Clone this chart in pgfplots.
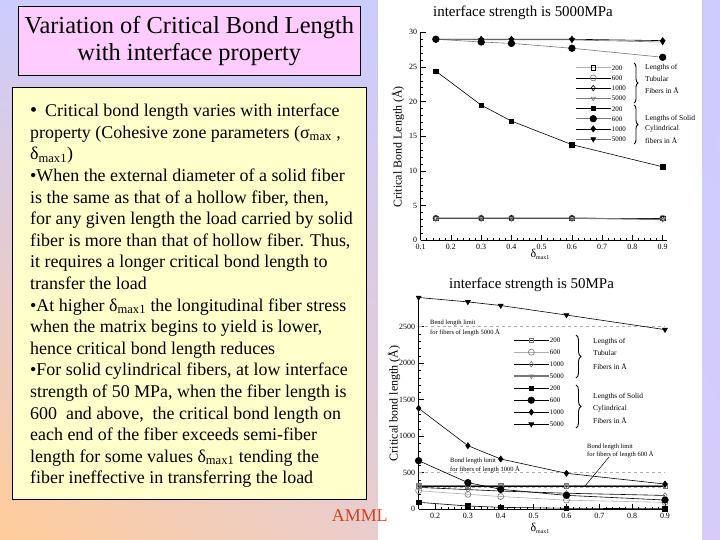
\documentclass[border=0pt]{standalone}
\usepackage{pgfplots}
\pgfplotsset{compat=1.18}
\usepackage{fontspec}
\setmainfont{Liberation Serif}
\usetikzlibrary{decorations.pathreplacing,shadings}
\definecolor{lavender}{RGB}{204,204,255}
\definecolor{peach}{RGB}{255,204,153}
\definecolor{lavpink}{RGB}{214,204,250}
\definecolor{titlepink}{RGB}{255,204,255}
\definecolor{boxyellow}{RGB}{255,255,204}
\definecolor{ammlred}{RGB}{204,68,34}
\definecolor{lgray}{RGB}{175,175,175}
\definecolor{mgray}{RGB}{120,120,120}

\pgfplotsset{
  slide/.style={
    scale only axis,
    axis x line*=bottom, axis y line*=left,
    axis line style={line width=0.8bp,-},
    tick style={black, line width=0.6bp},
    major tick length=5bp, minor tick length=2.5bp,
    minor x tick num=4, minor y tick num=4,
    tick label style={font=\fontsize{8}{9}\selectfont},
    /pgf/number format/assume math mode=true,
    /pgf/number format/1000 sep={},
    every axis plot/.append style={line width=0.6bp},
    legend image code/.code={\draw[mark repeat=2,mark phase=2,##1] plot coordinates {(0bp,0bp) (17.5bp,0bp) (35bp,0bp)};},
    legend cell align=left,
  }
}
\newcommand{\dmax}{δ\textsubscript{max1}}
\newcommand{\xl}{{\fontsize{12}{12}\selectfont δ}{\fontsize{6}{6}\selectfont\raisebox{-2bp}{max1}}}

\begin{document}
\begin{tikzpicture}
\path[use as bounding box] (0bp,0bp) rectangle (720bp,-540bp);
% background
\shade[upper left=lavender, upper right=lavender, lower left=peach, lower right=lavpink] (0bp,0bp) rectangle (720bp,-540bp);
\fill[white] (378bp,0bp) rectangle (702bp,-540bp);

% title box
\draw[fill=titlepink, line width=0.6bp] (18bp,-6.3bp) rectangle (360.7bp,-75.3bp);
\node[anchor=base, font=\fontsize{24.5}{26}\selectfont] at (189.3bp,-33bp) {Variation of Critical Bond Length};
\node[anchor=base, font=\fontsize{24.5}{26}\selectfont] at (189.3bp,-60bp) {with interface property};

% text box
\draw[fill=boxyellow, line width=0.6bp] (12.3bp,-87.3bp) rectangle (366.7bp,-499.3bp);
\begin{scope}[every node/.style={anchor=base west, inner sep=0pt, font=\fontsize{18}{20}\selectfont}]
\node at (30bp,-116.7bp) {\fontsize{20}{20}\selectfont •};
\node at (45bp,-116.7bp) {Critical bond length varies with interface};
\node at (30bp,-138.3bp) {property (Cohesive zone parameters (σ\textsubscript{max} ,};
\node at (30bp,-159.9bp) {\dmax)};
\node at (30bp,-181.5bp) {•When the external diameter of a solid fiber};
\node at (30bp,-203.1bp) {is the same as that of a hollow fiber, then,};
\node at (30bp,-224.7bp) {for any given length the load carried by solid};
\node at (30bp,-246.3bp) {fiber is more than that of hollow fiber. Thus,};
\node at (30bp,-267.9bp) {it requires a longer critical bond length to};
\node at (30bp,-289.5bp) {transfer the load};
\node at (30bp,-311.1bp) {•At higher \dmax\ the longitudinal fiber stress};
\node at (30bp,-332.7bp) {when the matrix begins to yield is lower,};
\node at (30bp,-354.3bp) {hence critical bond length reduces};
\node at (30bp,-375.9bp) {•For solid cylindrical fibers, at low interface};
\node at (30bp,-397.5bp) {strength of 50 MPa, when the fiber length is};
\node at (30bp,-419.1bp) {600 \ and above, \ the critical bond length on};
\node at (30bp,-440.7bp) {each end of the fiber exceeds semi-fiber};
\node at (30bp,-462.3bp) {length for some values \dmax\ tending the};
\node at (30bp,-483.9bp) {fiber ineffective in transferring the load};
\end{scope}

% chart titles
\node[anchor=base, font=\fontsize{15}{16}\selectfont] at (523bp,-16.5bp) {interface strength is 5000MPa};
\node[anchor=base, font=\fontsize{15}{16}\selectfont] at (531.5bp,-288bp) {interface strength is 50MPa};

% ===== top chart =====
\begin{axis}[slide,
  at={(420.7bp,-240.3bp)}, anchor=south west,
  width=246.5bp, height=208bp,
  xmin=0.1, xmax=0.915, ymin=0, ymax=30,
  xtick={0.1,0.2,...,0.9},
  xticklabels={0.1,0.2,0.3,0.4,0.5,0.6,0.7,0.8,0.9},
  ytick={0,5,...,30},
  ylabel={Critical Bond Length (Å)},
  ylabel style={font=\fontsize{12}{12}\selectfont, at={(axis description cs:-0.092,0.45)}, anchor=center},
  xlabel={\xl},
  xlabel style={at={(axis description cs:0.484,-0.068)}, anchor=center},
  legend style={at={(axis cs:0.61,25.5)}, anchor=north west, draw=none, fill=none, inner sep=0pt,
    row sep=2.2bp, font=\fontsize{7}{8}\selectfont,
    nodes={inner sep=0.5bp, text height=6bp, text depth=1bp}},
]
\addplot[lgray, mark=square, mark size=2.2bp, mark options={black,solid}] coordinates {(0.15,3.2)(0.3,3.2)(0.4,3.2)(0.6,3.2)(0.9,3.2)};
\addlegendentry{200}
\addplot[black, mark=o, mark size=3bp, mark options={mgray}] coordinates {(0.15,3.2)(0.3,3.2)(0.4,3.2)(0.6,3.2)(0.9,3.2)};
\addlegendentry{600}
\addplot[black, mark=diamond, mark size=2.8bp] coordinates {(0.15,3.2)(0.3,3.2)(0.4,3.2)(0.6,3.2)(0.9,3.1)};
\addlegendentry{1000}
\addplot[mgray, line width=1.2bp, mark=triangle, mark size=2.5bp, mark options={rotate=180, line width=0.6bp}] coordinates {(0.15,3.2)(0.3,3.2)(0.4,3.2)(0.6,3.2)(0.9,3.0)};
\addlegendentry{5000}
\addplot[black, mark=square*, mark size=2.2bp] coordinates {(0.15,24.4)(0.3,19.5)(0.4,17.2)(0.6,13.8)(0.9,10.6)};
\addlegendentry{200}
\addplot[mgray, mark=*, mark size=3.3bp, mark options={black}] coordinates {(0.15,29.0)(0.3,28.6)(0.4,28.4)(0.6,27.7)(0.9,26.4)};
\addlegendentry{600}
\addplot[black, mark=diamond*, mark size=3bp] coordinates {(0.15,29.0)(0.3,29.0)(0.4,29.0)(0.6,29.0)(0.9,28.8)};
\addlegendentry{1000}
\addplot[mgray, mark=triangle*, mark size=2.8bp, mark options={rotate=180, black}] coordinates {(0.15,29.0)(0.3,28.9)(0.4,28.9)(0.6,28.9)(0.9,28.6)};
\addlegendentry{5000}
\end{axis}

% top legend braces and text
\draw[decorate, decoration={brace, amplitude=4bp}, line width=0.9bp] (634bp,-63bp) -- (634bp,-103bp);
\draw[decorate, decoration={brace, amplitude=4bp}, line width=0.9bp] (634bp,-105bp) -- (634bp,-144bp);
\begin{scope}[every node/.style={anchor=west, inner sep=0pt, font=\fontsize{7.5}{8}\selectfont}]
\node at (645bp,-68bp) {Lengths of};
\node at (645bp,-79bp) {Tubular};
\node at (645bp,-90.5bp) {Fibers in Å};
\node at (645bp,-118.3bp) {Lengths of Solid};
\node at (645bp,-128.7bp) {Cylindrical};
\node at (645bp,-140.7bp) {fibers in Å};
\end{scope}

% ===== bottom chart =====
\begin{axis}[slide,
  at={(418.6bp,-509.3bp)}, anchor=south west,
  width=248.7bp, height=211.8bp,
  xmin=0.15, xmax=0.907, ymin=0, ymax=2900,
  xtick={0.2,0.3,...,0.9},
  xticklabels={0.2,0.3,0.4,0.5,0.6,0.7,0.8,0.9},
  ytick={0,500,...,2500},
  ylabel={Critical bond length (Å)},
  ylabel style={font=\fontsize{12}{12}\selectfont, at={(axis description cs:-0.099,0.5)}, anchor=center},
  xlabel={\xl},
  xlabel style={at={(axis description cs:0.488,-0.088)}, anchor=center},
  legend style={at={(axis cs:0.437,2373)}, anchor=north west, draw=none, fill=none, inner sep=0pt,
    row sep=4bp, font=\fontsize{7}{8}\selectfont,
    nodes={inner sep=0.5bp, text height=6bp, text depth=1bp}},
]
% reference limits
\addplot[lgray, dashed, forget plot] coordinates {(0.15,2500)(0.9,2500)};
\addplot[lgray, dashed, forget plot] coordinates {(0.15,500)(0.9,500)};
\addplot[lgray, dashed, forget plot] coordinates {(0.15,300)(0.9,300)};
\addplot[black, mark=square, mark size=2.2bp, mark options={mgray,solid}] coordinates {(0.15,320)(0.3,320)(0.4,320)(0.6,320)(0.9,320)};
\addlegendentry{200}
\addplot[lgray, mark=o, mark size=3bp, mark options={mgray}] coordinates {(0.15,255)(0.3,205)(0.4,175)(0.6,125)(0.9,95)};
\addlegendentry{600}
\addplot[black, mark=diamond, mark size=2.8bp, mark options={mgray}] coordinates {(0.15,300)(0.3,270)(0.4,250)(0.6,220)(0.9,190)};
\addlegendentry{1000}
\addplot[mgray, line width=1.4bp, mark=triangle, mark size=2.5bp, mark options={rotate=180, line width=0.6bp}] coordinates {(0.15,325)(0.3,325)(0.4,325)(0.6,325)(0.9,325)};
\addlegendentry{5000}
\addplot[black, mark=square*, mark size=2.3bp] coordinates {(0.15,96)(0.3,45)(0.4,27)(0.6,14)(0.9,8)};
\addlegendentry{200}
\addplot[black, mark=*, mark size=3.3bp] coordinates {(0.15,666)(0.3,365)(0.4,274)(0.6,191)(0.9,127)};
\addlegendentry{600}
\addplot[black, mark=diamond*, mark size=3bp] coordinates {(0.15,1383)(0.3,871)(0.4,689)(0.6,493)(0.9,346)};
\addlegendentry{1000}
\addplot[black, mark=triangle*, mark size=2.8bp, mark options={rotate=180}] coordinates {(0.15,2900)(0.3,2840)(0.4,2790)(0.6,2660)(0.9,2460)};
\addlegendentry{5000}
\end{axis}

% bottom legend braces and text
\draw[decorate, decoration={brace, amplitude=5bp}, line width=0.9bp] (576bp,-335bp) -- (576bp,-378bp);
\draw[decorate, decoration={brace, amplitude=5bp}, line width=0.9bp] (576bp,-385bp) -- (576bp,-428bp);
\begin{scope}[every node/.style={anchor=west, inner sep=0pt, font=\fontsize{7.5}{8}\selectfont}]
\node at (593bp,-341.7bp) {Lengths of};
\node at (593bp,-353.3bp) {Tubular};
\node at (593bp,-366bp) {Fibers in Å};
\node at (593bp,-396.7bp) {Lengths of Solid};
\node at (593bp,-408.3bp) {Cylindrical};
\node at (593bp,-420.7bp) {Fibers in Å};
\end{scope}
% limit annotations
\begin{scope}[every node/.style={anchor=west, inner sep=0pt, font=\fontsize{6.5}{7}\selectfont}]
\node at (430bp,-323.3bp) {Bend length limit};
\node at (430bp,-332.7bp) {for fibers of length 5000 Å};
\node at (450bp,-461bp) {Bond length limit};
\node at (450bp,-469.3bp) {for fibers of length 1000 Å};
\node at (587bp,-446.7bp) {Bond length limit};
\node at (587bp,-454.3bp) {for fibers of length 600 Å};
\end{scope}
\draw[line width=0.5bp] (609bp,-457bp) -- (585bp,-486bp);

% AMML
\node[anchor=base west, inner sep=0pt, text=ammlred, font=\fontsize{18}{18}\selectfont] at (331.7bp,-521.7bp) {AMML};
\end{tikzpicture}
\end{document}
